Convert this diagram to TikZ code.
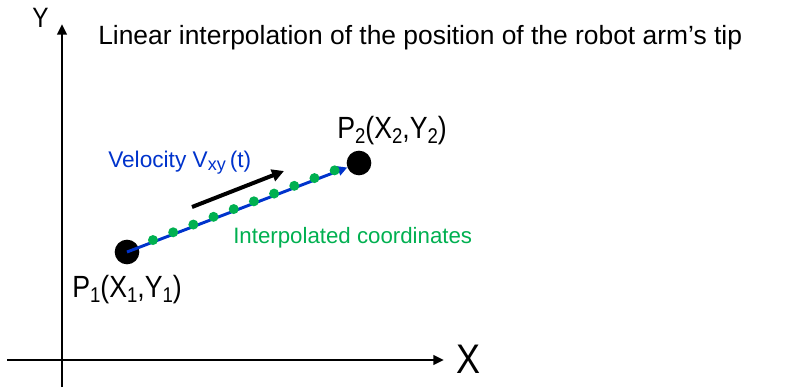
\documentclass[tikz,border=0pt]{standalone}
\usepackage{fontspec}
\setmainfont{Liberation Sans}
\newfontfamily\narrowfont[FakeStretch=0.87]{Liberation Sans}
\usetikzlibrary{arrows.meta,calc}
\definecolor{blue}{RGB}{0,51,204}
\definecolor{green}{RGB}{0,176,80}
\newcommand{\lowidx}[1]{\raisebox{-0.35ex}{\fontsize{16}{16}\selectfont #1}}

\begin{document}
\begin{tikzpicture}[x=0.75pt,y=-0.75pt,
    axis/.style={line width=2.2pt,-{Triangle[length=8pt,width=7pt]}},
    bigdot/.style={circle,fill=black,inner sep=0pt,minimum size=18.5pt},
    gdot/.style={circle,fill=green,inner sep=0pt,minimum size=7.5pt},
    ptlabel/.style={font=\narrowfont\fontsize{23}{23}\selectfont,anchor=base west,inner sep=0pt}]
    \useasboundingbox (0,0) rectangle (802,387);
    % axes
    \coordinate (ybot) at (62,387);
    \coordinate (ytop) at (62,24);
    \coordinate (xleft) at (7,360);
    \coordinate (xright) at (444,360);
    \draw[axis] (ybot)--(ytop);
    \draw[axis] (xleft)--(xright);
    \node[font=\narrowfont\fontsize{21}{21}\selectfont,anchor=base,inner sep=0pt] (ylab) at (40.5,27){Y};
    \node[font=\narrowfont\fontsize{31}{31}\selectfont,anchor=base west,inner sep=0pt] (xlab) at (456,373){X};
    \node[font=\fontsize{19.8}{19.8}\selectfont,anchor=base west,inner sep=0pt] (title) at (98,44){Linear interpolation of the position of the robot arm’s tip};
    % end points
    \node[bigdot] (p1) at (127,252){};
    \node[bigdot] (p2) at (359,163){};
    \node[ptlabel] (p1lab) at (72,297){P\lowidx{1}(X\lowidx{1},Y\lowidx{1})};
    \node[ptlabel] (p2lab) at (337,138){P\lowidx{2}(X\lowidx{2},Y\lowidx{2})};
    \draw[blue,line width=2.2pt,-{Triangle[length=7pt,width=7pt]}] (p1.center)--(p2);
    \foreach \i in {0,...,9}
      \node[gdot] (c\i) at ($(p1)!{0.112+0.087*\i}!(p2)+(0,-2)$){};
    % velocity
    \coordinate (vstart) at (192,207);
    \coordinate (vend) at (284,171);
    \draw[line width=3pt,-{Triangle[length=9pt,width=9pt]}] (vstart)--(vend);
    \node[font=\fontsize{17}{17}\selectfont,text=blue,anchor=base west,inner sep=0pt] (vlab) at (108,167){Velocity V\raisebox{-2.3pt}{\fontsize{13.5}{13.5}\selectfont xy}\hspace{3pt}(t)};
    \node[font=\fontsize{16.7}{16.7}\selectfont,text=green,anchor=base west,inner sep=0pt] (clab) at (233,243){Interpolated coordinates};
  \end{tikzpicture}
\end{document}
